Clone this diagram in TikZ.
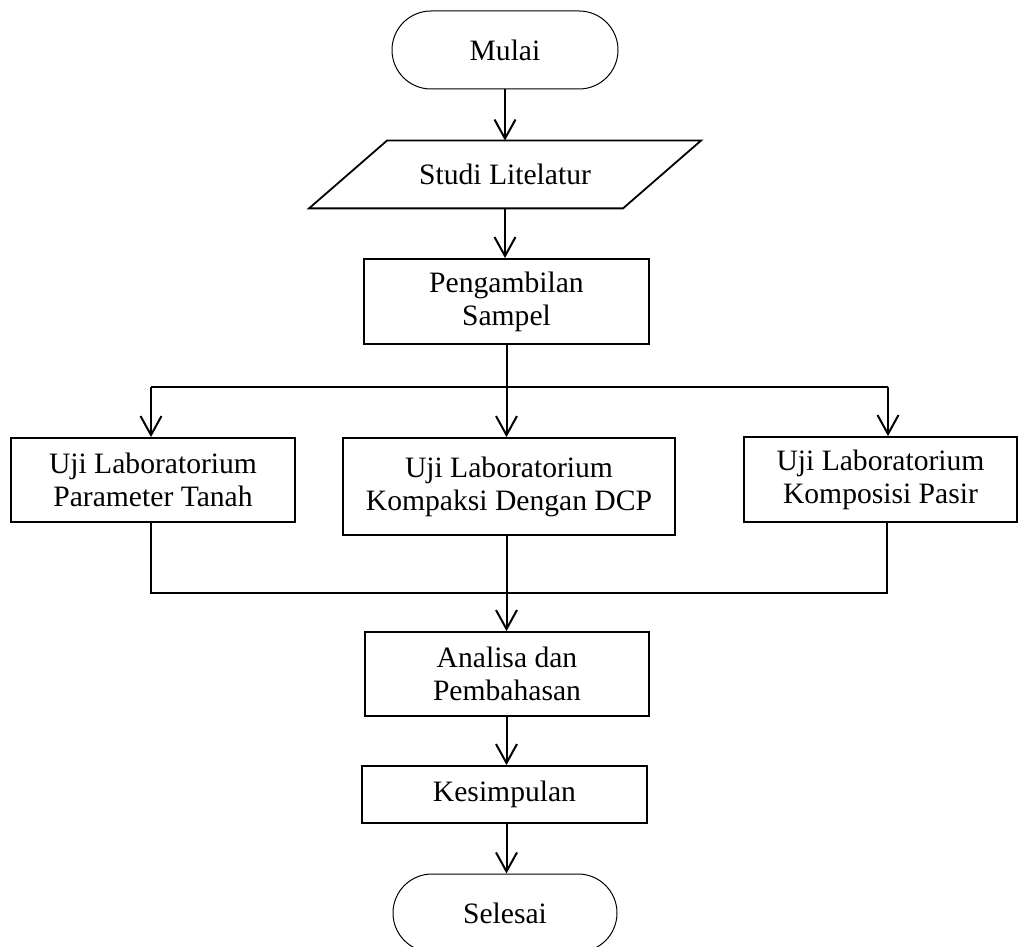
\documentclass[tikz,border=0pt]{standalone}
\usepackage{fontspec}
\setmainfont{Liberation Serif}
\usetikzlibrary{arrows.meta,shapes.misc}
\begin{document}
\begin{tikzpicture}[x=0.5pt,y=-0.5pt,
  every node/.style={font=\fontsize{14.8}{16.5}\selectfont, align=center, inner sep=0pt},
  box/.style={draw, line width=0.9pt, rectangle},
  term/.style={draw, line width=0.5pt, rounded rectangle, minimum width=113pt, minimum height=39pt},
  arr/.style={line width=1pt, -{Straight Barb[length=9.5pt,width=10.5pt,line width=1pt]}},
  thinline/.style={line width=0.55pt}]
\clip (0,0) rectangle (1019,947);

\node[term] (mulai) at (505,50) {Mulai};
\node[minimum width=100pt, minimum height=33.5pt] (studi) at (505,174.5) {Studi Litelatur};
\draw[line width=0.9pt] ([shift={(-118,0)}]studi.north) -- ([shift={(196,0)}]studi.north)
  -- ([shift={(118,0)}]studi.south) -- ([shift={(-196,0)}]studi.south) -- cycle;
\node[box, minimum width=142.5pt, minimum height=42.5pt] (peng) at (506.5,301.5) {Pengambilan\\Sampel};
\node[box, minimum width=142pt, minimum height=42pt] (left) at (153,480) {Uji Laboratorium\\Parameter Tanah};
\node[box, minimum width=166pt, minimum height=48.5pt] (mid) at (509,486.5) {Uji Laboratorium\\Kompaksi Dengan DCP};
\node[box, minimum width=136.5pt, minimum height=42.5pt] (right) at (880.5,479.5) {Uji Laboratorium\\Komposisi Pasir};
\node[box, minimum width=142pt, minimum height=42pt] (anal) at (507,674) {Analisa dan\\Pembahasan};
\node[box, minimum width=142.5pt, minimum height=28.5pt] (kes) at (504.5,794.5) {Kesimpulan};
\node[term, minimum width=112pt] (sel) at (505,913) {Selesai};

\coordinate (bl) at (151,387);
\coordinate (br) at (888,387);
\coordinate (cl) at (151,593);
\coordinate (cr) at (887,593);

\draw[arr] (mulai.south) -- (studi.north);
\draw[arr] (studi.south) -- (studi.south |- peng.north);
\draw[arr] (peng.south) -- (peng.south |- mid.north);
\draw[thinline] (bl) -- (br);
\draw[arr] (bl) -- (bl |- left.north);
\draw[arr] (br) -- (br |- right.north);
\draw[thinline] (bl |- left.south) -- (cl) -- (cr) -- (cr |- right.south);
\draw[arr] (mid.south -| peng.south) -- (anal.north -| peng.south);
\draw[arr] (anal.south -| peng.south) -- (kes.north -| peng.south);
\draw[arr] (kes.south -| peng.south) -- (sel.north -| peng.south);
\end{tikzpicture}
\end{document}
